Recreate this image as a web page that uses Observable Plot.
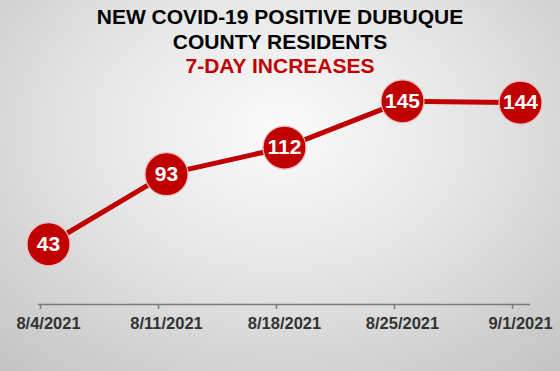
<!DOCTYPE html>
<html>
<head>
<meta charset="utf-8">
<script src="https://cdn.jsdelivr.net/npm/d3@7"></script>
<script src="https://cdn.jsdelivr.net/npm/@observablehq/plot@0.6"></script>
<style>
  html, body { margin: 0; padding: 0; }
  body {
    width: 560px; height: 371px; overflow: hidden;
    background: radial-gradient(ellipse 75% 85% at 50% 35%, #fbfbfb 0%, #e6e6e6 45%, #c4c4c4 100%);
    font-family: "Liberation Sans", Arial, sans-serif;
  }
  #title {
    height: 78px; box-sizing: border-box; padding-top: 5px;
    text-align: center; font-weight: bold; font-size: 21px; line-height: 24.5px;
    color: #000;
  }
  #title .red { color: #c00000; }
  #chart svg { display: block; background: transparent; overflow: visible; }
</style>
</head>
<body>
<div id="title">NEW COVID-19 POSITIVE DUBUQUE<br>COUNTY RESIDENTS<br><span class="red">7-DAY INCREASES</span></div>
<div id="chart"></div>
<script>
const dates = ["8/4/2021", "8/11/2021", "8/18/2021", "8/25/2021", "9/1/2021"];
const cases = [43, 93, 112, 145, 144];

const data = dates.map((d, i) => ({date: d, value: cases[i]}));
const red = "#c00000";

const chart = Plot.plot({
  width: 560,
  height: 293,
  marginLeft: 38,
  marginRight: 30,
  marginTop: 20,
  marginBottom: 67,
  style: {background: "transparent", overflow: "visible"},
  x: {type: "point", domain: dates, padding: 0, insetLeft: 8, insetRight: 9, label: null},
  y: {domain: [0, 147], axis: null},
  marks: [
    Plot.ruleY([0], {stroke: "#7a7a7a", strokeWidth: 1.5}),
    Plot.axisX({tickSize: 5, tickFormat: () => "", label: null, dx: -8, stroke: "#7a7a7a", strokeWidth: 1.5, strokeOpacity: 1}),
    Plot.axisX({tickSize: 0, tickPadding: 13, label: null, fontSize: 16.5, fontWeight: "bold", fill: "#333", fontFamily: "Liberation Sans, Arial, sans-serif"}),
    Plot.line(data, {x: "date", y: "value", stroke: red, strokeWidth: 5}),
    Plot.dot(data, {x: "date", y: "value", r: 21.5, fill: red, stroke: "#eebcbc", strokeWidth: 1.2}),
    Plot.text(data, {x: "date", y: "value", text: d => String(d.value), fill: "white", fontSize: 21, fontWeight: "bold", fontFamily: "Liberation Sans, Arial, sans-serif"})
  ]
});
document.getElementById("chart").appendChild(chart);
</script>
</body>
</html>
